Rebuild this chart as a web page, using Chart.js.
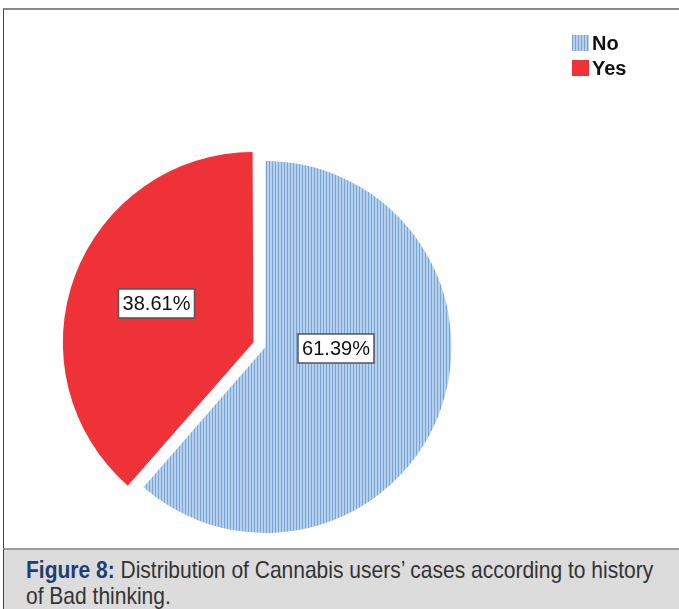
<!DOCTYPE html>
<html>
<head>
<meta charset="utf-8">
<script src="https://cdn.jsdelivr.net/npm/chart.js@4.4.1/dist/chart.umd.min.js"></script>
<style>
  html, body { margin: 0; padding: 0; background: #fff; }
  #wrap { position: relative; width: 679px; height: 609px; overflow: hidden; }
  #frame { position: absolute; left: 3px; top: 8px; width: 700px; height: 540px;
           border-top: 2px solid #8a8a8a; border-left: 1px solid #444; }
  #chartBox { position: absolute; left: 0; top: 0; width: 679px; height: 609px; }
  #caption { position: absolute; left: 3px; top: 548px; width: 700px; height: 70px;
             background: #dcdcdc; border-top: 2px solid #9a9a9a; border-left: 1px solid #444;
             font-family: "Liberation Sans", Arial, sans-serif;
             font-size: 24px; line-height: 26px; color: #333; }
  #caption .txt { position: absolute; left: 22px; top: 7px; width: 760px;
                  transform: scaleX(0.875); transform-origin: left top; white-space: nowrap; }
  #caption b { color: #1f3c74; }
</style>
</head>
<body>
<div id="wrap">
  <div id="frame"></div>
  <div id="chartBox"><canvas id="pieChart" width="679" height="609"></canvas></div>
  <div id="caption"><div class="txt"><b>Figure 8:</b> Distribution of Cannabis users’ cases according to history<br>of Bad thinking.</div></div>
</div>
<script>
const categories = ['No', 'Yes'];
const percentages = [61.39, 38.61];

// vertical stripe fill like the SPSS pattern
function stripePattern() {
    const c = document.createElement('canvas');
    c.width = 3;
    c.height = 3;
    const g = c.getContext('2d');
    g.fillStyle = '#b7d0ec';
    g.fillRect(0, 0, 3, 3);
    g.fillStyle = '#78a3d5';
    g.fillRect(2, 0, 1, 3);
    return g.createPattern(c, 'repeat');
}

const ctx = document.getElementById('pieChart').getContext('2d');
const blueFill = stripePattern();
const redFill = '#ee3238';

const boxLabels = {
    id: 'boxLabels',
    afterDatasetsDraw(chart, args, opts) {
        const c = chart.ctx;
        const meta = chart.getDatasetMeta(0);
        c.save();
        c.font = '20px "Liberation Sans", Arial, sans-serif';
        c.textAlign = 'center';
        c.textBaseline = 'middle';
        meta.data.forEach((arc, i) => {
            const r = arc.outerRadius;
            const x = arc.x + opts.pos[i][0] * r;
            const y = arc.y + opts.pos[i][1] * r;
            const text = chart.data.datasets[0].data[i].toFixed(2) + '%';
            const w = 76, h = 29;
            c.fillStyle = '#fff';
            c.fillRect(x - w / 2, y - h / 2, w, h);
            c.strokeStyle = '#555';
            c.lineWidth = 1.5;
            c.strokeRect(x - w / 2, y - h / 2, w, h);
            c.fillStyle = '#111';
            c.fillText(text, x, y + 1);
        });
        c.restore();
    }
};

const sideLegend = {
    id: 'sideLegend',
    afterDraw(chart) {
        const c = chart.ctx;
        const ds = chart.data.datasets[0];
        c.save();
        c.font = 'bold 20px "Liberation Sans", Arial, sans-serif';
        c.textBaseline = 'middle';
        chart.data.labels.forEach((lab, i) => {
            const y = 35 + i * 25;
            c.fillStyle = ds.backgroundColor[i];
            c.fillRect(572, y, 17, 16);
            c.fillStyle = '#111';
            c.fillText(lab, 592, y + 9);
        });
        c.restore();
    }
};

new Chart(ctx, {
    type: 'pie',
    data: {
        labels: categories,
        datasets: [{
            data: percentages,
            backgroundColor: [blueFill, redFill],
            borderWidth: 0,
            offset: [0, 52]
        }]
    },
    options: {
        responsive: false,
        animation: false,
        layout: {
            padding: { left: 53.5, right: 201.5, top: 135, bottom: 50 }
        },
        plugins: {
            legend: { display: false },
            tooltip: { enabled: false },
            boxLabels: {
                pos: [[0.379, 0.008], [-0.586, -0.234]]
            }
        }
    },
    plugins: [boxLabels, sideLegend]
});
</script>
</body>
</html>
